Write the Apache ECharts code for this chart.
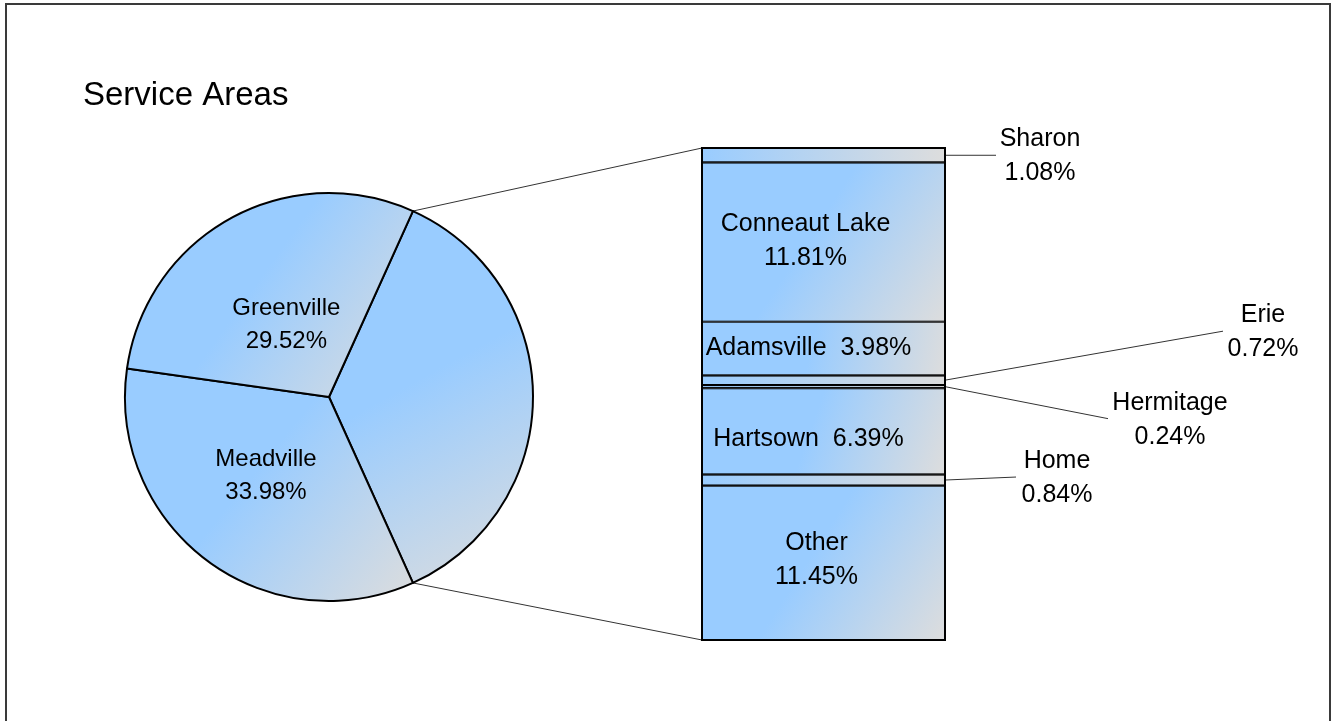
<!DOCTYPE html>
<html><head><meta charset="utf-8">
<script src="https://cdn.jsdelivr.net/npm/echarts@6/dist/echarts.min.js"></script>
<style>html,body{margin:0;padding:0;background:#fff}#c{width:1336px;height:721px}</style>
</head><body><div id="c"></div>
<script>
// ---------- data ----------
const titleText = 'Service Areas';
const pieNames = ['Meadville', 'Greenville'];
const pieValues = [33.98, 29.52];
const barNames = ['Sharon', 'Conneaut Lake', 'Adamsville', 'Erie', 'Hermitage', 'Hartsown', 'Home', 'Other'];
const barValues = [1.08, 11.81, 3.98, 0.72, 0.24, 6.39, 0.84, 11.45];

// ---------- styles / layout ----------
const FONT = '"Liberation Sans", Arial, sans-serif';
const BLUE = '#99CCFF', GREY = '#DDDDDD';
const PIE_CENTER = [329, 397], PIE_R = 204;
const GRID = { left: 702, top: 148, width: 243, height: 492 };
// label mode per bar item: stack = two lines inside, inline = one line inside, outside = leader line
const barLabelMode = { 'Sharon': 'outside', 'Conneaut Lake': 'stack', 'Adamsville': 'inline', 'Erie': 'outside',
  'Hermitage': 'outside', 'Hartsown': 'inline', 'Home': 'outside', 'Other': 'stack' };
// inside label nudges [dx, dy]
const barLabelNudge = { 'Conneaut Lake': [-18, -1], 'Adamsville': [-15, 0], 'Hartsown': [-15, 8], 'Other': [-7, -3] };
// outside labels: leader end offset from bar right edge, and text centre offset from leader end
const outsideLabel = { 'Sharon': { lx: 51, ly: 0, tx: 44, ty: 1 }, 'Erie': { lx: 278, ly: -49, tx: 40, ty: 1 },
  'Hermitage': { lx: 163, ly: 32, tx: 62, ty: 1 }, 'Home': { lx: 71, ly: -3, tx: 41, ty: 1 } };
const pieLabelNudge = { 'Greenville': [4, 10], 'Meadville': [0, -2.5] };

const diagFill = () => ({ type: 'linear', x: 0, y: 0, x2: 1, y2: 1,
  colorStops: [{ offset: 0, color: BLUE }, { offset: 0.45, color: BLUE }, { offset: 1, color: GREY }] });
const horizFill = () => ({ type: 'linear', x: 0, y: 0, x2: 1, y2: 0,
  colorStops: [{ offset: 0, color: BLUE }, { offset: 1, color: GREY }] });

const fmt = v => v.toFixed(2) + '%';
const groupTotal = barValues.reduce((a, b) => a + b, 0);
const grandTotal = groupTotal + pieValues.reduce((a, b) => a + b, 0);
const startAngle = groupTotal / grandTotal * 360 / 2;

const chart = echarts.init(document.getElementById('c'));

const pieData = [{ name: 'group', value: groupTotal, label: { show: false } }]
  .concat(pieNames.map((n, i) => ({ name: n, value: pieValues[i] })));

const barSeries = barNames.map((n, i) => {
  const mode = barLabelMode[n];
  return {
    type: 'bar', name: n, stack: 'g', barWidth: '100%', silent: true,
    data: [barValues[i]],
    itemStyle: { color: barValues[i] < 2 ? horizFill() : diagFill(), borderColor: '#000', borderWidth: 1 },
    label: {
      show: mode === 'stack' || mode === 'inline', position: 'inside',
      fontFamily: FONT, fontSize: 25, lineHeight: 34, color: '#000',
      formatter: p => mode === 'stack' ? n + '\n' + fmt(p.value) : n + '  ' + fmt(p.value)
    },
    labelLayout: () => { const d = barLabelNudge[n] || [0, 0]; return { dx: d[0], dy: d[1] }; }
  };
});

chart.setOption({
  animation: false,
  title: { text: titleText, left: 83, top: 79, padding: 0,
    textStyle: { fontFamily: FONT, fontSize: 33, fontWeight: 'normal', color: '#000' } },
  grid: { left: GRID.left, top: GRID.top, width: GRID.width, height: GRID.height, containLabel: false },
  xAxis: { type: 'category', data: ['g'], show: false },
  yAxis: { type: 'value', min: 0, max: groupTotal, inverse: true, show: false },
  series: [{
    type: 'pie', center: PIE_CENTER, radius: PIE_R, startAngle: startAngle, clockwise: true,
    silent: true, avoidLabelOverlap: false, emphasis: { disabled: true },
    itemStyle: { color: diagFill(), borderColor: '#000', borderWidth: 2 },
    label: { show: true, position: 'inside', fontFamily: FONT, fontSize: 24, lineHeight: 33, color: '#000',
      formatter: p => p.name + '\n' + fmt(p.value) },
    labelLayout: p => { const d = pieLabelNudge[pieData[p.dataIndex].name] || [0, 0]; return { dx: d[0], dy: d[1] }; },
    data: pieData
  }].concat(barSeries)
});

// ---------- annotations computed from the library's scales ----------
const rect = chart.getModel().getComponent('grid', 0).coordinateSystem.getRect();
const graphics = [];
graphics.push({ type: 'rect', silent: true, z: 0,
  shape: { x: 6, y: 4, width: 1324, height: 800 }, style: { fill: 'none', stroke: '#3a3a3a', lineWidth: 2 } });
// outline of the bar stack
graphics.push({ type: 'rect', silent: true, z: 10,
  shape: { x: rect.x, y: rect.y, width: rect.width, height: rect.height }, style: { fill: 'none', stroke: '#000', lineWidth: 2 } });
// connector lines pie -> bar
const a = startAngle * Math.PI / 180;
const px = PIE_CENTER[0] + PIE_R * Math.cos(a);
const pyTop = PIE_CENTER[1] - PIE_R * Math.sin(a);
const pyBot = PIE_CENTER[1] + PIE_R * Math.sin(a);
graphics.push({ type: 'line', silent: true, shape: { x1: px, y1: pyTop, x2: rect.x, y2: rect.y },
  style: { stroke: '#333', lineWidth: 1 } });
graphics.push({ type: 'line', silent: true, shape: { x1: px, y1: pyBot, x2: rect.x, y2: rect.y + rect.height },
  style: { stroke: '#333', lineWidth: 1 } });
// outside labels with leader lines
let cum = 0;
barNames.forEach((n, i) => {
  const mid = cum + barValues[i] / 2;
  cum += barValues[i];
  if (barLabelMode[n] !== 'outside') return;
  const o = outsideLabel[n];
  const p = chart.convertToPixel({ gridIndex: 0 }, [0, mid]);
  const x0 = rect.x + rect.width, y0 = p[1];
  const x1 = x0 + o.lx, y1 = y0 + o.ly;
  graphics.push({ type: 'line', silent: true, shape: { x1: x0, y1: y0, x2: x1, y2: y1 },
    style: { stroke: '#333', lineWidth: 1 } });
  graphics.push({ type: 'text', silent: true, x: x1 + o.tx, y: y1 + o.ty,
    style: { text: n + '\n' + fmt(barValues[i]), align: 'center', verticalAlign: 'middle',
      fontFamily: FONT, fontSize: 25, lineHeight: 34, fill: '#000' } });
});
chart.setOption({ graphic: graphics });
</script></body></html>
